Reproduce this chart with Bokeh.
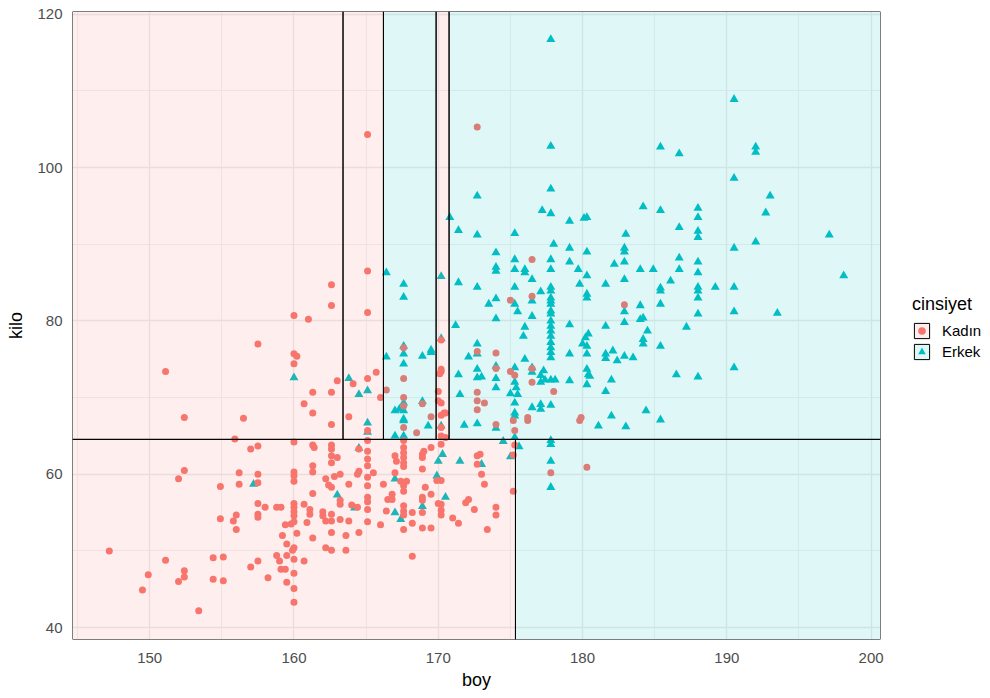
from bokeh.plotting import figure
from bokeh.models import Legend, LegendItem, SingleIntervalTicker, Range1d
from bokeh.embed import file_html
from bokeh.resources import INLINE

# ---------------- data ----------------
boy_kadin = [165.1,172.7,165.1,162.6,162.6,165.1,160.0,161.0,157.5,167.6,
    170.2,176.5,175.0,176.5,182.9,174.0,174.0,175.0,175.3,176.5,
    176.5,178.0,176.2,176.2,175.2,174.0,179.9,179.8,175.3,175.3,
    175.2,177.8,180.3,175.2,174.0,174.0,167.6,172.7,170.2,170.1,
    170.2,170.0,170.0,170.2,170.4,170.5,170.2,169.5,168.5,167.6,
    167.6,168.9,170.2,170.2,170.5,172.7,172.7,172.7,173.2,165.7,
    165.1,163.0,164.1,166.0,166.4,161.3,167.6,163.8,165.1,162.6,
    160.7,161.3,160.0,160.2,160.0,162.6,156.5,155.9,160.0,157.0,
    157.5,161.3,161.4,162.6,162.6,164.5,165.1,165.1,151.1,152.4,
    152.4,152.0,154.9,156.2,156.2,157.5,157.5,160.0,160.0,160.0,
    161.3,161.3,162.6,162.6,163.0,162.2,162.4,162.6,162.8,163.2,
    161.3,163.2,163.2,163.8,164.4,164.5,165.1,165.1,165.1,165.1,
    165.1,165.1,165.1,165.1,165.5,164.0,164.4,163.8,164.5,163.6,
    163.6,162.6,162.6,162.0,162.0,162.2,162.6,162.2,162.6,161.1,
    161.1,160.9,160.7,160.0,160.0,160.0,160.0,160.0,159.8,159.4,
    160.2,159.2,161.3,160.7,159.5,160.0,159.9,160.0,158.8,159.0,
    159.5,159.1,159.4,160.0,159.5,160.0,160.0,158.2,157.0,157.5,
    158.0,157.5,157.5,157.5,158.8,159.1,156.0,155.8,156.0,154.9,
    154.4,155.1,154.4,155.1,151.1,152.4,152.4,152.0,149.9,149.5,
    147.2,153.4,166.2,166.5,166.8,166.8,166.4,166.0,167.0,167.1,
    167.6,167.6,167.6,167.6,167.6,167.6,167.4,167.8,167.6,167.6,
    167.6,167.6,167.6,167.6,167.0,168.2,168.2,168.9,168.9,168.9,
    168.9,169.1,168.9,168.9,169.0,168.9,169.5,169.5,169.5,170.0,
    170.2,170.2,170.2,169.9,170.2,170.2,171.0,171.4,171.9,172.1,
    172.5,172.7,172.7,172.9,173.0,173.2,173.4,168.2,163.2]
kilo_kadin = [104.3,105.3,86.5,84.7,82.0,81.1,80.7,80.2,77.0,76.5,
    77.5,88.0,82.7,83.2,82.1,75.8,73.8,73.4,72.9,73.8,
    72.0,70.8,67.4,67.0,67.0,66.5,67.4,67.0,65.7,63.8,
    62.5,60.2,60.9,57.8,55.7,54.7,72.5,76.0,73.7,73.1,
    73.4,70.8,69.6,69.3,68.0,68.0,67.7,67.5,65.4,68.9,
    66.1,69.2,66.1,65.0,64.8,70.7,69.6,68.4,69.3,73.3,
    72.5,72.2,71.8,70.0,71.0,70.7,70.0,67.5,65.7,66.5,
    69.2,68.0,75.7,75.4,74.4,70.7,67.3,64.6,64.2,63.3,
    63.7,63.8,63.5,63.8,63.3,63.3,64.4,63.0,73.4,67.4,
    60.5,59.4,58.4,60.2,58.7,60.0,58.9,60.3,59.8,59.1,
    61.1,60.3,62.4,61.5,62.2,59.4,58.6,58.3,59.7,60.0,
    57.5,56.6,56.1,58.7,60.0,60.4,62.0,61.1,59.6,58.5,
    57.0,56.4,55.4,53.8,60.2,56.0,55.7,53.9,52.4,52.0,
    50.1,54.8,53.9,55.1,54.6,53.9,52.4,50.4,50.1,55.4,
    54.8,53.7,56.1,56.2,55.7,55.1,54.6,53.8,53.5,53.4,
    52.3,52.0,51.7,48.7,50.9,50.4,50.1,48.9,49.4,48.7,
    49.4,47.6,47.6,47.1,45.9,45.1,43.3,46.5,47.9,48.7,
    55.7,56.2,54.8,54.4,55.7,55.7,54.7,53.9,52.8,54.2,
    49.1,49.2,46.3,46.1,48.8,47.4,46.6,46.0,46.9,44.9,
    50.0,42.2,58.7,56.7,57.4,56.7,55.2,53.4,62.4,61.7,
    64.4,63.5,62.8,62.2,61.5,61.0,59.1,59.1,58.5,57.8,
    55.9,55.2,54.7,52.8,60.2,53.6,49.3,57.0,56.6,55.0,
    53.0,58.3,60.7,62.6,63.0,62.2,63.5,57.4,53.0,56.2,
    56.1,55.3,54.7,59.2,59.2,63.9,54.3,53.6,56.3,56.7,
    55.4,62.4,61.3,62.6,60.0,58.7,52.8,55.0,54.1]

boy_erkek = [166.4,167.6,167.6,170.2,170.8,171.4,172.7,172.7,174.0,174.0,
    174.0,171.4,172.7,173.5,174.0,174.0,171.2,172.7,167.6,169.5,
    170.2,177.8,190.5,177.8,185.4,186.7,192.0,192.0,190.5,193.0,
    192.7,177.8,177.2,177.8,179.1,180.1,180.3,184.2,185.4,188.0,
    188.0,186.7,188.0,188.0,197.1,175.3,183.0,178.0,179.1,190.5,
    192.0,182.9,182.9,180.3,175.3,177.8,179.1,182.9,182.2,186.7,
    188.0,175.3,176.0,176.0,177.8,179.7,184.0,184.9,186.7,188.0,
    176.5,180.3,182.9,186.1,175.3,177.8,177.8,177.1,179.8,181.6,
    185.4,185.4,188.0,188.0,188.0,189.2,190.5,180.3,180.3,177.8,
    176.5,175.3,177.8,177.8,177.8,182.9,184.0,185.4,188.0,190.5,
    193.5,198.1,175.5,176.5,177.8,177.8,177.8,177.8,177.8,177.8,
    179.1,181.6,184.0,184.2,184.5,184.2,184.2,185.4,187.2,176.0,
    175.9,180.4,180.0,182.9,180.2,177.8,177.8,177.8,176.0,175.3,
    174.0,174.0,174.0,175.3,175.4,175.0,175.5,175.3,175.3,175.3,
    174.0,174.5,175.3,175.6,175.0,176.5,177.1,177.1,177.8,177.3,
    177.1,177.1,177.4,177.8,178.1,179.1,180.3,180.3,179.1,180.3,
    180.4,180.5,180.3,181.6,181.6,182.1,182.4,182.9,183.5,182.0,
    181.6,186.5,188.0,190.5,184.4,185.4,182.0,181.1,183.0,177.8,
    177.8,177.8,177.8,176.5,176.5,167.6,167.6,168.9,169.5,171.4,
    172.7,172.1,172.7,172.7,173.0,171.5,167.6,167.6,167.6,167.3,
    167.0,168.9,169.3,170.2,171.8,172.7,166.4,163.8,165.1,164.5,
    167.6,167.0,167.6,165.1,165.1,160.0,164.5,157.2,163.0,164.2,
    167.0,167.0,167.4,168.9,169.9,170.0,170.3,170.5,171.5,173.0]
kilo_erkek = [86.3,84.8,83.1,85.8,93.5,91.8,96.3,91.2,88.9,87.0,
    86.5,85.0,84.4,82.2,82.9,80.3,79.4,77.0,76.7,76.2,
    77.7,116.7,108.9,102.8,102.7,101.8,102.7,102.0,98.6,96.3,
    94.1,97.2,94.4,94.0,93.0,93.4,93.5,94.9,94.4,94.7,
    93.5,92.2,91.7,90.9,91.2,91.4,91.3,90.0,89.5,89.5,
    90.3,89.5,89.0,89.0,88.0,88.0,87.7,87.7,87.4,88.2,
    87.7,86.7,86.7,86.3,86.7,86.7,86.7,86.7,86.7,86.3,
    85.4,85.9,85.4,85.2,84.4,84.4,83.9,83.8,84.8,84.8,
    84.3,83.9,84.4,83.9,83.0,84.4,84.4,83.5,83.0,83.0,
    82.6,82.2,82.2,81.3,80.9,81.2,82.0,82.2,80.9,81.2,
    81.0,85.9,81.2,80.6,80.0,79.3,78.7,78.0,77.2,76.5,
    79.5,79.3,80.2,80.4,78.7,77.6,77.0,76.7,79.2,79.2,
    78.0,78.3,77.0,79.8,77.8,82.6,75.9,75.2,75.0,73.9,
    74.1,72.5,71.3,72.0,71.3,70.5,70.4,69.3,68.0,67.6,
    66.0,64.3,64.8,63.6,62.3,68.7,69.1,68.5,69.0,73.5,
    72.9,72.0,72.3,72.3,72.3,75.7,76.7,75.7,72.2,73.7,
    73.0,72.8,71.7,75.7,75.1,76.1,74.8,75.4,75.2,72.3,
    70.8,73.0,72.7,73.9,68.3,67.1,67.6,66.3,66.2,64.4,
    63.9,61.7,58.3,73.3,73.9,75.7,74.4,75.4,75.9,73.0,
    75.7,75.3,73.7,72.6,72.7,70.4,69.3,68.3,67.0,68.5,
    68.3,69.5,66.3,66.3,66.4,66.6,75.3,72.5,70.9,70.4,
    67.2,65.0,65.0,66.7,65.5,72.6,63.4,58.7,57.3,55.6,
    59.4,55.0,54.1,55.8,59.8,61.7,62.6,57.0,61.7,61.3]

# axis limits and decision-tree partition
boy_lim = (144.65, 200.65)
kilo_lim = (38.45, 120.35)
kilo_split = 64.55
boy_split_low = 175.35
boy_splits_high = [163.4, 166.2, 169.85, 170.75]

labels = ["Kadın", "Erkek"]
col_kadin = "#F8766D"
col_erkek = "#00BFC4"

# ---------------- leaves of the tree ----------------
x0, x1 = boy_lim
y0, y1 = kilo_lim
hb = [x0] + boy_splits_high + [x1]
leaf_class_high = ["Kadın", "Kadın", "Erkek", "Kadın", "Erkek"]
rects = {"Kadın": dict(left=[], right=[], bottom=[], top=[]),
         "Erkek": dict(left=[], right=[], bottom=[], top=[])}
for (l, r, c) in [(x0, boy_split_low, "Kadın"), (boy_split_low, x1, "Erkek")]:
    rects[c]["left"].append(l); rects[c]["right"].append(r)
    rects[c]["bottom"].append(y0); rects[c]["top"].append(kilo_split)
for i, c in enumerate(leaf_class_high):
    rects[c]["left"].append(hb[i]); rects[c]["right"].append(hb[i + 1])
    rects[c]["bottom"].append(kilo_split); rects[c]["top"].append(y1)

FONT = "Liberation Sans"

p = figure(frame_width=808, frame_height=628,
           x_range=Range1d(*boy_lim), y_range=Range1d(*kilo_lim),
           output_backend="svg", toolbar_location=None,
           min_border_left=72, min_border_right=104,
           min_border_top=11, min_border_bottom=57)
p.outline_line_color = None
p.background_fill_color = "white"

p.xaxis.ticker = SingleIntervalTicker(interval=10, num_minor_ticks=2)
p.yaxis.ticker = SingleIntervalTicker(interval=20, num_minor_ticks=2)
p.xaxis.axis_label = "boy"
p.yaxis.axis_label = "kilo"
for ax in (p.xaxis[0], p.yaxis[0]):
    ax.axis_line_color = None
    ax.major_tick_line_color = None
    ax.minor_tick_line_color = None
    ax.major_tick_out = 0
    ax.minor_tick_out = 0
    ax.major_tick_in = 0
    ax.minor_tick_in = 0
    ax.major_label_text_font = FONT
    ax.major_label_text_font_size = "15px"
    ax.major_label_text_color = "#4D4D4D"
    ax.axis_label_text_font = FONT
    ax.axis_label_text_font_size = "18px"
    ax.axis_label_text_font_style = "normal"
    ax.axis_label_text_color = "black"
p.xaxis.major_label_standoff = 13
p.yaxis.major_label_standoff = 10
p.xaxis.axis_label_standoff = 4
p.yaxis.axis_label_standoff = 8

for g in (p.xgrid[0], p.ygrid[0]):
    g.grid_line_color = "#EBEBEB"
    g.grid_line_width = 1.3
    g.minor_grid_line_color = "#EBEBEB"
    g.minor_grid_line_width = 0.7

# points (drawn below the translucent tree rectangles)
r_m = p.scatter(boy_erkek, kilo_erkek, marker="triangle", size=9,
                fill_color=col_erkek, line_color=None)
r_f = p.scatter(boy_kadin, kilo_kadin, marker="circle", size=7,
                fill_color=col_kadin, line_color=None)

q_f = p.quad(left=rects["Kadın"]["left"], right=rects["Kadın"]["right"],
             bottom=rects["Kadın"]["bottom"], top=rects["Kadın"]["top"],
             fill_color=col_kadin, fill_alpha=0.12, line_color="black", line_width=1)
q_m = p.quad(left=rects["Erkek"]["left"], right=rects["Erkek"]["right"],
             bottom=rects["Erkek"]["bottom"], top=rects["Erkek"]["top"],
             fill_color=col_erkek, fill_alpha=0.12, line_color="black", line_width=1)

legend = Legend(items=[LegendItem(label=labels[0], renderers=[r_f, q_f]),
                       LegendItem(label=labels[1], renderers=[r_m, q_m])],
                title="cinsiyet", location=(32, 278),
                margin=0, padding=0, spacing=2,
                glyph_width=19, glyph_height=19, label_height=19,
                label_standoff=11,
                label_text_font=FONT, label_text_font_size="15px",
                label_text_color="black",
                title_text_font=FONT, title_text_font_size="18px",
                title_text_font_style="normal", title_text_color="black",
                title_standoff=6,
                border_line_color=None, background_fill_alpha=0)
p.add_layout(legend, "right")

open("out.html", "w").write(file_html(p, INLINE))
